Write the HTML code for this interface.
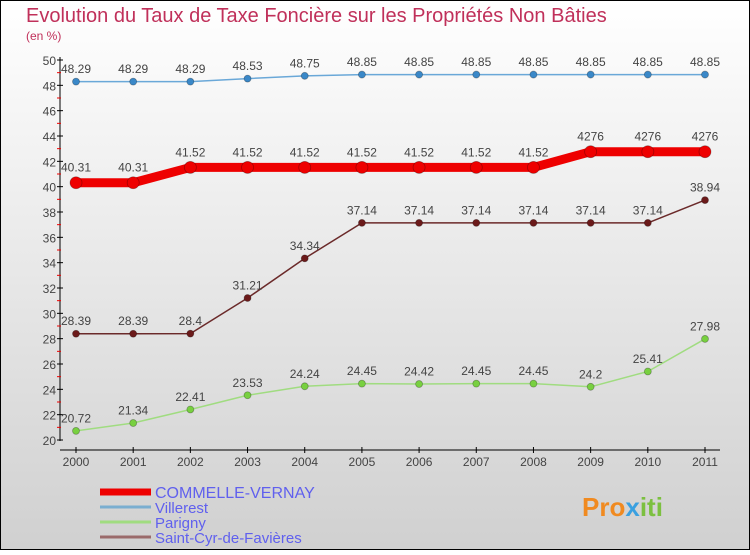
<!DOCTYPE html>
<html><head><meta charset="utf-8"><style>
html,body{margin:0;padding:0}
body{width:750px;height:550px;overflow:hidden;font-family:"Liberation Sans",sans-serif}
</style></head><body>
<svg id="chart" width="750" height="550" xmlns="http://www.w3.org/2000/svg">
<defs><linearGradient id="bg" x1="0" y1="0" x2="0" y2="1"><stop offset="0" stop-color="#ffffff"/><stop offset="1" stop-color="#d0d0d0"/></linearGradient></defs>
<rect x="0.5" y="0.5" width="749" height="549" fill="url(#bg)" stroke="#000" stroke-width="1"/>
<text x="26" y="22" font-size="20" fill="#c0305a">Evolution du Taux de Taxe Foncière sur les Propriétés Non Bâties</text>
<text x="26" y="40" font-size="12" fill="#c0305a">(en %)</text>
<g id="axes"></g>
<g id="series"></g>
<g id="legend"></g>
<text x="582" y="516" font-size="26" font-weight="bold" fill="#f08a20">Pro<tspan fill="#3aa0e0">x</tspan><tspan fill="#7cc040">iti</tspan></text>
</svg>
<script>
const years=[2000,2001,2002,2003,2004,2005,2006,2007,2008,2009,2010,2011];
const commelle=[40.31,40.31,41.52,41.52,41.52,41.52,41.52,41.52,41.52,42.76,42.76,42.76];
const villerest=[48.29,48.29,48.29,48.53,48.75,48.85,48.85,48.85,48.85,48.85,48.85,48.85];
const parigny=[20.72,21.34,22.41,23.53,24.24,24.45,24.42,24.45,24.45,24.2,25.41,27.98];
const saintcyr=[28.39,28.39,28.4,31.21,34.34,37.14,37.14,37.14,37.14,37.14,37.14,38.94];
const commelleLabels=["40.31","40.31","41.52","41.52","41.52","41.52","41.52","41.52","41.52","4276","4276","4276"];
const yTicks=[20,22,24,26,28,30,32,34,36,38,40,42,44,46,48,50];
const NS="http://www.w3.org/2000/svg";
const x=i=>76+i*(705-76)/(years.length-1);
const y=v=>440-(v-20)*(380/30);
function mk(tag,attrs,parent){const e=document.createElementNS(NS,tag);for(const k in attrs)e.setAttribute(k,attrs[k]);parent.appendChild(e);return e;}
const axes=document.getElementById('axes');
let yl=mk('line',{x1:60,y1:57,x2:60,y2:441,stroke:'#000','stroke-width':1},axes);


let xl=mk('line',{x1:60,y1:450,x2:720,y2:450,stroke:'#000','stroke-width':1},axes);


yTicks.forEach(v=>{
 mk('line',{x1:57,y1:y(v),x2:63,y2:y(v),stroke:'#000'},axes);
 if(v<50) mk('line',{x1:57,y1:y(v+1),x2:61,y2:y(v+1),stroke:'#e00'},axes);
 const t=mk('text',{x:56,y:y(v)+5,'text-anchor':'end','font-size':12,fill:'#444'},axes);
 t.textContent=v;
 
 
});
years.forEach((yr,i)=>{
 mk('line',{x1:x(i),y1:447,x2:x(i),y2:453,stroke:'#000'},axes);
 const t=mk('text',{x:x(i),y:466,'text-anchor':'middle','font-size':12,fill:'#444'},axes);
 t.textContent=yr;
 
 
});
const sg=document.getElementById('series');
function series(name,vals,color,dot,w,r,labels,fs){
 const g=mk('g',{},sg);
 
 
 const p=mk('polyline',{points:vals.map((v,i)=>x(i)+','+y(v)).join(' '),fill:'none',stroke:color,'stroke-width':w,'stroke-linejoin':'round'},g);
 
 
 vals.forEach((v,i)=>{
  const c=mk('circle',{cx:x(i),cy:y(v),r:r,fill:dot,stroke:'rgba(0,0,0,0.3)','stroke-width':0.8},g);
  
  
  const t=mk('text',{x:x(i),y:y(v)-(r+5),'text-anchor':'middle','font-size':fs,fill:'#444'},g);
  t.textContent=labels?labels[i]:String(v);
  
  
 });
}
series('saint-cyr',saintcyr,'#6b2a2a','#6b1a1a',1.5,3.5,null,12);
series('parigny',parigny,'#a0dc80','#78d040',1.5,3.5,null,12);
series('villerest',villerest,'#6aa8d8','#3a88c8',1.5,3.5,null,12);
series('commelle-vernay',commelle,'#ee0000','#ee0000',9,6,commelleLabels,12);
const lg=document.getElementById('legend');
[['COMMELLE-VERNAY','#ee0000',7],['Villerest','#7aaed0',3],['Parigny','#a0dc80',3],['Saint-Cyr-de-Favières','#9a6a6a',3]].forEach((e,i)=>{
 const yy=492+i*15;
 const g=mk('g',{},lg);
 
 
 mk('line',{x1:100,y1:yy,x2:151,y2:yy,stroke:e[1],'stroke-width':e[2]},g);
 const t=mk('text',{x:155,y:yy+6,'font-size':i==0?16:15,fill:'#6060ee'},g);
 t.textContent=e[0];
});
</script>
</body></html>
